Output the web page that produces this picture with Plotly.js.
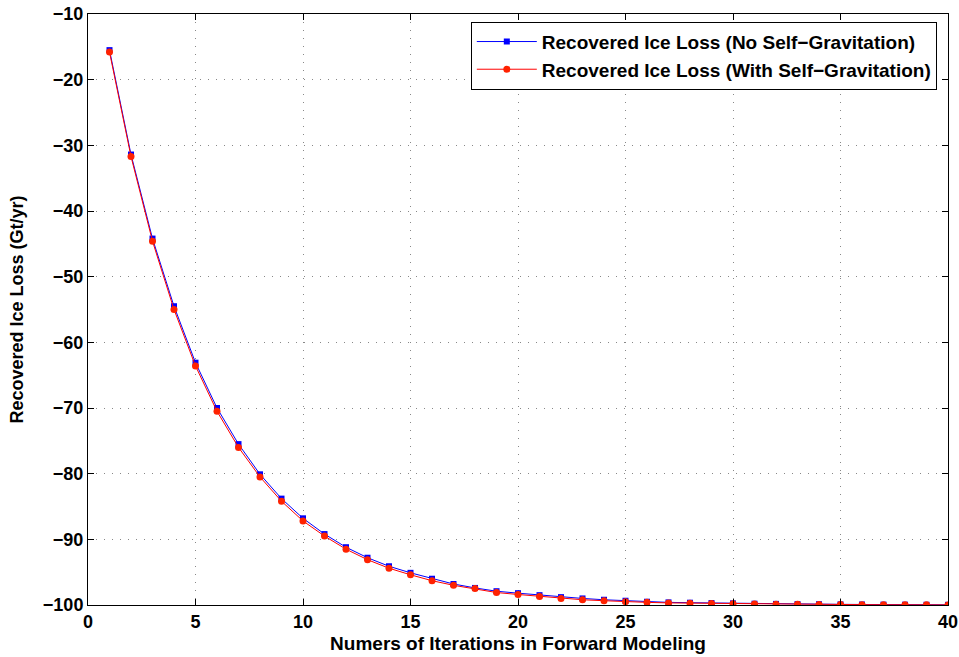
<!DOCTYPE html>
<html>
<head>
<meta charset="utf-8">
<script src="https://cdn.plot.ly/plotly-3.0.1.min.js"></script>
<style>html,body{margin:0;padding:0;background:#fff;}#plot{width:959px;height:657px;}</style>
</head>
<body>
<div id="plot"></div>
<script>
const iterations = [1,2,3,4,5,6,7,8,9,10,11,12,13,14,15,16,17,18,19,20,21,22,23,24,25,26,27,28,29,30,31,32,33,34,35,36,37,38,39,40];
const noSelfGrav = [-15.5,-31.4,-44.2,-54.5,-63.1,-70.0,-75.5,-80.1,-83.8,-86.8,-89.2,-91.2,-92.8,-94.1,-95.1,-96.0,-96.8,-97.4,-97.9,-98.2,-98.5,-98.8,-99.0,-99.2,-99.35,-99.5,-99.6,-99.65,-99.7,-99.75,-99.8,-99.83,-99.86,-99.88,-99.9,-99.92,-99.94,-99.95,-99.96,-99.97];
const withSelfGrav = [-15.8,-31.7,-44.6,-55.0,-63.6,-70.5,-76.0,-80.5,-84.2,-87.2,-89.5,-91.5,-93.1,-94.4,-95.4,-96.3,-97.0,-97.5,-98.1,-98.4,-98.7,-99.0,-99.2,-99.35,-99.5,-99.6,-99.68,-99.72,-99.78,-99.82,-99.85,-99.88,-99.9,-99.92,-99.94,-99.95,-99.96,-99.97,-99.98,-99.99];
const seriesNames = ['Recovered Ice Loss (No Self\u2212Gravitation)','Recovered Ice Loss (With Self\u2212Gravitation)'];

const fontFam = 'Liberation Sans, Arial, Helvetica, sans-serif';
const traces = [
  {x: iterations, y: noSelfGrav, name: seriesNames[0], mode: 'lines+markers', type: 'scatter',
   line: {color: '#0000ff', width: 1}, marker: {symbol: 'square', size: 6, color: '#0000ff'}},
  {x: iterations, y: withSelfGrav, name: seriesNames[1], mode: 'lines+markers', type: 'scatter',
   line: {color: '#ff0000', width: 1}, marker: {symbol: 'circle', size: 7, color: '#ff2200'}}
];
const axisCommon = {
  showline: true, linecolor: '#000', linewidth: 1, mirror: 'ticks',
  ticks: 'inside', ticklen: 6, tickcolor: '#000',
  showgrid: true, gridcolor: '#888', griddash: '1px,7px', gridwidth: 1,
  zeroline: false,
  tickfont: {family: fontFam, size: 18, color: '#000', weight: 'bold'}
};
const layout = {
  width: 959, height: 657,
  margin: {l: 88, r: 11, t: 14, b: 52},
  paper_bgcolor: '#fff', plot_bgcolor: '#fff',
  showlegend: true,
  legend: {x: 0.987, y: 0.987, xanchor: 'right', yanchor: 'top',
    bordercolor: '#000', borderwidth: 1, bgcolor: '#fff', itemwidth: 60,
    tracegroupgap: 0,
    font: {family: fontFam, size: 19, color: '#000', weight: 'bold'}},
  xaxis: Object.assign({}, axisCommon, {range: [0, 40], dtick: 5, tick0: 0,
    title: {text: 'Numers of Iterations in Forward Modeling', standoff: 6,
      font: {family: fontFam, size: 19, color: '#000', weight: 'bold'}}}),
  yaxis: Object.assign({}, axisCommon, {range: [-100, -10], dtick: 10,
    title: {text: 'Recovered Ice Loss (Gt/yr)', standoff: 14,
      font: {family: fontFam, size: 18, color: '#000', weight: 'bold'}}})
};
Plotly.newPlot('plot', traces, layout, {displayModeBar: false, staticPlot: true});
</script>
</body>
</html>
